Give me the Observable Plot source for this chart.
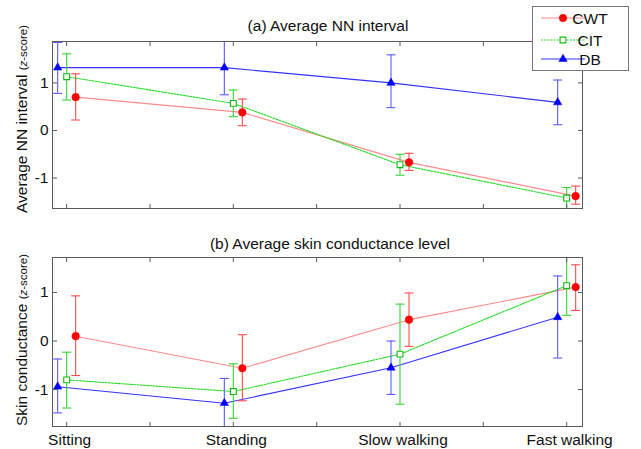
<!DOCTYPE html>
<html>
<head>
<meta charset="utf-8">
<script src="https://cdn.jsdelivr.net/npm/d3@7"></script>
<script src="https://cdn.jsdelivr.net/npm/@observablehq/plot@0.6"></script>
<style>
  html, body { margin: 0; padding: 0; background: #fff; }
  #chart { position: relative; width: 641px; height: 449px; overflow: hidden; font-family: Arial, "Liberation Sans", sans-serif; }
  #chart svg { position: absolute; left: 0; overflow: visible; }
</style>
</head>
<body>
<div id="chart"></div>
<script>
// ---------- data ----------
const categories = ["Sitting", "Standing", "Slow walking", "Fast walking"];
const seriesNames = ["CWT", "CIT", "DB"];
const yTickValues = [-1, 0, 1];
const xTickValues = [1, 1.5, 2, 2.5, 3, 3.5, 4];

const titleA = "(a) Average NN interval";
const titleB = "(b) Average skin conductance level";
const ylabelA = "Average NN interval";
const ylabelB = "Skin conductance";

// (a) Average NN interval (z-score): mean, lower, upper
const nnCWT   = [0.70, 0.38, -0.67, -1.38];
const nnCWTlo = [0.22, 0.10, -0.84, -1.55];
const nnCWThi = [1.19, 0.66, -0.48, -1.17];
const nnCIT   = [1.13, 0.57, -0.72, -1.42];
const nnCITlo = [0.64, 0.29, -0.94, -1.66];
const nnCIThi = [1.61, 0.85, -0.50, -1.20];
const nnDB    = [1.32, 1.32, 1.00, 0.59];
const nnDBlo  = [0.78, 0.75, 0.48, 0.12];
const nnDBhi  = [1.85, 1.90, 1.59, 1.06];

// (b) Average skin conductance level (z-score)
const scCWT   = [0.10, -0.56, 0.44, 1.11];
const scCWTlo = [-0.71, -1.23, -0.11, 0.63];
const scCWThi = [0.93, 0.13, 0.99, 1.57];
const scCIT   = [-0.80, -1.04, -0.27, 1.14];
const scCITlo = [-1.38, -1.59, -1.30, 0.53];
const scCIThi = [-0.23, -0.47, 0.76, 1.75];
const scDB    = [-0.94, -1.28, -0.55, 0.49];
const scDBlo  = [-1.48, -1.80, -1.10, -0.35];
const scDBhi  = [-0.37, -0.77, 0.00, 1.34];

// ---------- styles ----------
const FONT = 'Arial, "Liberation Sans", sans-serif';
const AXIS = "#5a5a5a";
const style = {
  CWT: {line: "#ff8c8c", bar: "#ff4d4d", mark: "#ff0000", symbol: "circle", r: 3.8, filled: true, dash: null, dx: 9},
  CIT: {line: "#22dd22", bar: "#33d633", mark: "#11bb11", symbol: "square", r: 3.3, filled: false, dash: "2,1.2", dx: 0},
  DB:  {line: "#3434ff", bar: "#5a5aff", mark: "#0000ff", symbol: "triangle", r: 3.1, filled: true, dash: null, dx: -9}
};

function buildRows(sets) {
  const rows = [];
  seriesNames.forEach((s) => {
    const [m, lo, hi] = sets[s];
    categories.forEach((c, i) => rows.push({series: s, cat: c, x: i + 1, y: m[i], lo: lo[i], hi: hi[i]}));
  });
  return rows;
}

const dataA = buildRows({CWT: [nnCWT, nnCWTlo, nnCWThi], CIT: [nnCIT, nnCITlo, nnCIThi], DB: [nnDB, nnDBlo, nnDBhi]});
const dataB = buildRows({CWT: [scCWT, scCWTlo, scCWThi], CIT: [scCIT, scCITlo, scCIThi], DB: [scDB, scDBlo, scDBhi]});

// custom symbols
const capSym = {draw(c) { c.moveTo(-4.5, 0); c.lineTo(4.5, 0); }};
const tickUp = {draw(c) { c.moveTo(0, 0); c.lineTo(0, -4.5); }};
const tickDown = {draw(c) { c.moveTo(0, 0); c.lineTo(0, 4.5); }};
const tickRight = {draw(c) { c.moveTo(0, 0); c.lineTo(4.5, 0); }};
const tickLeft = {draw(c) { c.moveTo(0, 0); c.lineTo(-4.5, 0); }};

function seriesMarks(data) {
  const marks = [];
  seriesNames.forEach((s) => {
    const st = style[s];
    const d = data.filter((r) => r.series === s);
    marks.push(Plot.line(d, {x: "x", y: "y", dx: st.dx, stroke: st.line, strokeWidth: 1.1, strokeDasharray: st.dash, clip: true}));
  });
  seriesNames.forEach((s) => {
    const st = style[s];
    const d = data.filter((r) => r.series === s);
    marks.push(Plot.ruleX(d, {x: "x", y1: "lo", y2: "hi", dx: st.dx, stroke: st.bar, strokeWidth: 1.1, clip: true}));
    marks.push(Plot.dot(d, {x: "x", y: "lo", dx: st.dx, symbol: capSym, fill: "none", stroke: st.bar, strokeWidth: 1.1, clip: true}));
    marks.push(Plot.dot(d, {x: "x", y: "hi", dx: st.dx, symbol: capSym, fill: "none", stroke: st.bar, strokeWidth: 1.1, clip: true}));
    marks.push(Plot.dot(d, {
      x: "x", y: "y", dx: st.dx, symbol: st.symbol, r: st.r,
      fill: st.filled ? st.mark : "white", stroke: st.mark, strokeWidth: st.filled ? 0.5 : 1.1
    }));
  });
  return marks;
}

function frameMarks() {
  return [
    Plot.dot(xTickValues, {x: (d) => d, frameAnchor: "bottom", symbol: tickUp, fill: "none", stroke: AXIS, strokeWidth: 1}),
    Plot.dot(xTickValues, {x: (d) => d, frameAnchor: "top", symbol: tickDown, fill: "none", stroke: AXIS, strokeWidth: 1}),
    Plot.dot(yTickValues, {y: (d) => d, frameAnchor: "left", symbol: tickRight, fill: "none", stroke: AXIS, strokeWidth: 1}),
    Plot.dot(yTickValues, {y: (d) => d, frameAnchor: "right", symbol: tickLeft, fill: "none", stroke: AXIS, strokeWidth: 1}),
    Plot.text(yTickValues, {y: (d) => d, text: (d) => String(d), frameAnchor: "left", textAnchor: "end", dx: -4, fontSize: 15.5, fill: "#111"})
  ];
}

const W = 641;
const xScale = {domain: [0.915, 4.095], axis: null};

const plotA = Plot.plot({
  width: W, height: 215,
  marginTop: 41, marginBottom: 7, marginLeft: 52, marginRight: 59,
  x: xScale,
  y: {domain: [-1.64, 1.87], axis: null},
  style: {fontFamily: FONT, background: "transparent"},
  marks: [
    ...seriesMarks(dataA),
    ...frameMarks(),
    Plot.frame({stroke: AXIS, strokeWidth: 1})
  ]
});

const plotB = Plot.plot({
  width: W, height: 234,
  marginTop: 42, marginBottom: 23, marginLeft: 52, marginRight: 59,
  x: xScale,
  y: {domain: [-1.76, 1.72], axis: null},
  style: {fontFamily: FONT, background: "transparent"},
  marks: [
    ...seriesMarks(dataB),
    ...frameMarks(),
    Plot.frame({stroke: AXIS, strokeWidth: 1}),
    Plot.text(categories, {x: (d, i) => i + 1, text: (d) => d, frameAnchor: "bottom", lineAnchor: "bottom", dy: 18, dx: 3, fontSize: 15.5, fill: "#111"})
  ]
});

const chart = document.getElementById("chart");
plotA.style.top = "0px";
plotB.style.top = "215px";
chart.appendChild(plotA);
chart.appendChild(plotB);

// titles and axis labels
function addLabels(svg, title, tx, ty, ylabel, lx, ly) {
  const s = d3.select(svg);
  s.append("text").attr("x", tx).attr("y", ty).attr("text-anchor", "middle")
    .attr("font-family", FONT).attr("font-size", 15.5).attr("fill", "#111").text(title);
  const t = s.append("text").attr("transform", `translate(${lx},${ly}) rotate(-90)`)
    .attr("text-anchor", "middle").attr("font-family", FONT).attr("fill", "#111");
  t.append("tspan").attr("font-size", 15.5).text(ylabel + " ");
  t.append("tspan").attr("font-size", 11.5).text("(");
  t.append("tspan").attr("font-size", 11.5).attr("font-style", "italic").text("z");
  t.append("tspan").attr("font-size", 11.5).text("-score)");
}
addLabels(plotA, titleA, 328, 31, ylabelA, 27, 119);
addLabels(plotB, titleB, 330, 34, ylabelB, 27, 125);

// legend
(function () {
  const s = d3.select(plotA);
  const g = s.append("g");
  g.append("rect").attr("x", 532.5).attr("y", 6.5).attr("width", 96).attr("height", 64)
    .attr("fill", "white").attr("stroke", "#777").attr("stroke-width", 1);
  const ys = [18, 40, 59];
  seriesNames.forEach((name, i) => {
    const st = style[name];
    const y = ys[i];
    g.append("line").attr("x1", 541).attr("x2", 585).attr("y1", y).attr("y2", y)
      .attr("stroke", st.line).attr("stroke-width", 1.1).attr("stroke-dasharray", st.dash);
    const symMap = {circle: d3.symbolCircle, square: d3.symbolSquare, triangle: d3.symbolTriangle};
    g.append("path").attr("transform", `translate(563,${y})`)
      .attr("d", d3.symbol(symMap[st.symbol], st.r * st.r * Math.PI)())
      .attr("fill", st.filled ? st.mark : "white").attr("stroke", st.mark)
      .attr("stroke-width", st.filled ? 0.5 : 1.1);
    g.append("text").attr("x", 590).attr("y", y + 5.5).attr("font-family", FONT)
      .attr("font-size", 15.5).attr("fill", "#111").text(name);
  });
})();
</script>
</body>
</html>
